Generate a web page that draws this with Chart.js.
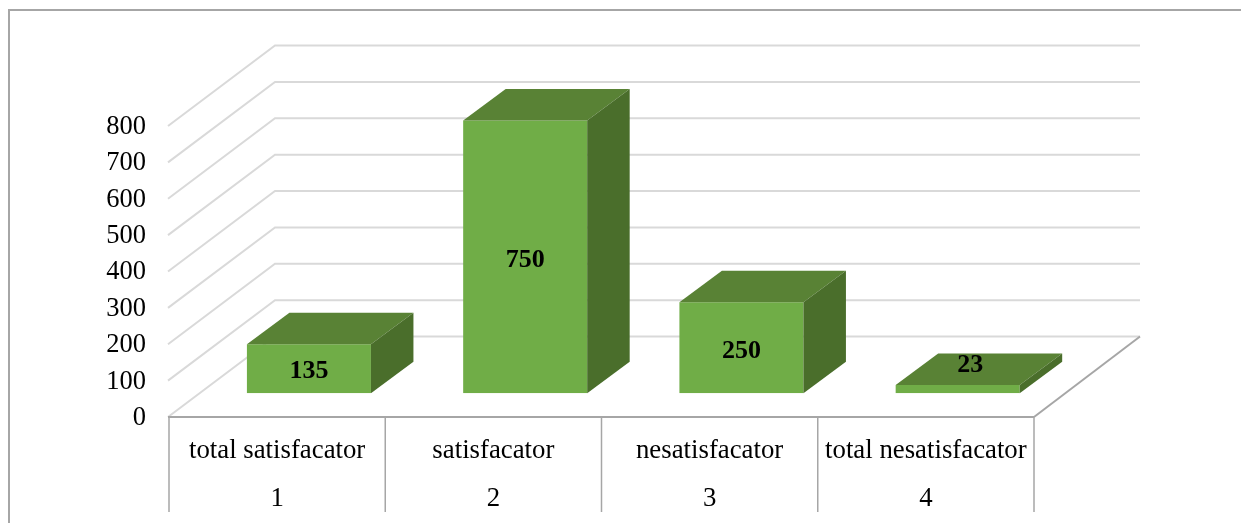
<!DOCTYPE html>
<html><head><meta charset="utf-8">
<style>html,body{margin:0;padding:0;background:#fff}canvas{display:block}</style>
<script src="https://cdn.jsdelivr.net/npm/chart.js@4/dist/chart.umd.min.js"></script>
</head><body>
<canvas id="c" width="1241" height="523"></canvas>
<script>
const categoryNames = ['total satisfacator', 'satisfacator', 'nesatisfacator', 'total nesatisfacator'];
const categoryIndex = ['1', '2', '3', '4'];
const values = [135, 750, 250, 23];
const yTicks = [0, 100, 200, 300, 400, 500, 600, 700, 800];

const WALL = {dx: 106, dy: 80.5};      // floor depth
const BAR_SHIFT = {dx: 31.8, dy: 23.7};  // bar front plane behind axis plane
const BAR_DEPTH = {dx: 42.5, dy: 31.5};
const GRID = '#d9d9d9', AXIS = '#a6a6a6';
const FONT = '"Liberation Serif","Times New Roman",serif';

function line(ctx, pts, color, w) {
  ctx.beginPath();
  pts.forEach((p, i) => i ? ctx.lineTo(p[0], p[1]) : ctx.moveTo(p[0], p[1]));
  ctx.strokeStyle = color; ctx.lineWidth = w; ctx.stroke();
}
function poly(ctx, pts, color) {
  ctx.beginPath();
  pts.forEach((p, i) => i ? ctx.lineTo(p[0], p[1]) : ctx.moveTo(p[0], p[1]));
  ctx.closePath(); ctx.fillStyle = color; ctx.fill();
}

const scene = {
  id: 'scene',
  beforeDatasetsDraw(chart) {
    const {ctx, scales: {x, y}} = chart;
    const L = x.left, R = x.right, B = y.getPixelForValue(0);
    ctx.save();
    // frame
    line(ctx, [[9, 523], [9, 10], [1241, 10]], AXIS, 2);
    // wall grid lines
    yTicks.forEach(v => {
      const py = y.getPixelForValue(v);
      line(ctx, [[L - 1, py], [L + WALL.dx, py - WALL.dy], [R + WALL.dx, py - WALL.dy]], GRID, 2);
    });
    // floor edges and axis
    line(ctx, [[R, B], [R + WALL.dx, B - WALL.dy]], AXIS, 2);
    line(ctx, [[L - 1, B], [R, B]], AXIS, 2);
    // category separators
    for (let i = 0; i <= categoryNames.length; i++) {
      const px = L + (R - L) * i / categoryNames.length;
      line(ctx, [[px, B], [px, 512]], AXIS, 1.5);
    }
    ctx.restore();
  },
  beforeDatasetDraw(chart) {
    chart.ctx.save();
    chart.ctx.translate(BAR_SHIFT.dx, -BAR_SHIFT.dy);
  },
  afterDatasetDraw(chart, args) {
    const {ctx} = chart;
    args.meta.data.forEach(bar => {
      const l = bar.x - bar.width / 2, r = bar.x + bar.width / 2, t = bar.y, b = bar.base;
      const d = BAR_DEPTH;
      poly(ctx, [[l, t], [l + d.dx, t - d.dy], [r + d.dx, t - d.dy], [r, t]], '#598235');
      poly(ctx, [[r, t], [r + d.dx, t - d.dy], [r + d.dx, b - d.dy], [r, b]], '#4a6e2b');
    });
    ctx.font = 'bold 26px ' + FONT;
    ctx.fillStyle = '#000';
    ctx.textAlign = 'center';
    ctx.textBaseline = 'middle';
    args.meta.data.forEach((bar, i) => {
      const h = bar.base - bar.y;
      let px = bar.x, py = (bar.y + bar.base) / 2 + 3;
      if (h < 26) { px = bar.x + 12.5; py = bar.y - 20; }  // thin bar: label sits on the top face
      ctx.fillText(String(values[i]), px, py);
    });
    ctx.restore();
  }
};

new Chart(document.getElementById('c'), {
  type: 'bar',
  data: {
    labels: categoryNames.map((n, i) => [n, categoryIndex[i]]),
    datasets: [{data: values, backgroundColor: '#70ad47', barPercentage: 0.5735, categoryPercentage: 1}]
  },
  options: {
    responsive: false, animation: false,
    layout: {padding: {top: 126, right: 207, left: 0, bottom: 0}},
    plugins: {legend: {display: false}, tooltip: {enabled: false}},
    scales: {
      x: {
        grid: {display: false, drawTicks: false}, border: {display: false},
        ticks: {color: '#000', padding: 10, autoSkip: false, maxRotation: 0,
          font: {family: FONT, size: 26.8, lineHeight: '48px'}},
        afterFit(s) { s.height = 106; }
      },
      y: {
        min: 0, max: 800,
        grid: {display: false, drawTicks: false}, border: {display: false},
        ticks: {color: '#000', padding: 23, stepSize: 100, labelOffset: 1, font: {family: FONT, size: 26.5}},
        afterFit(s) { s.width = 169; }
      }
    }
  },
  plugins: [scene]
});
</script>
</body></html>
